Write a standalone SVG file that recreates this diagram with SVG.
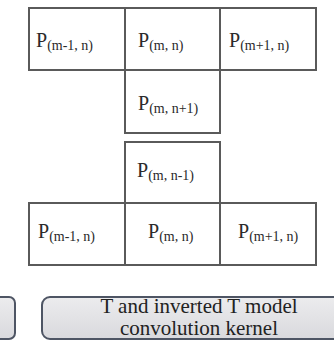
<svg xmlns="http://www.w3.org/2000/svg" width="334" height="341" viewBox="0 0 334 341">
<defs>
<linearGradient id="gbox" x1="0" y1="0" x2="0" y2="1">
<stop offset="0" stop-color="#ececee"/>
<stop offset="1" stop-color="#d9d9dd"/>
</linearGradient>
</defs>
<style>
.cell{fill:#ffffff;stroke:#5a5a5a;stroke-width:2}
.p{font-size:20px;fill:#2a2a2a}
.s{font-size:14px}
.cap{fill:url(#gbox);stroke:#4e5564;stroke-width:2}
.lbl{font-size:21px;fill:#222;text-anchor:middle}
</style>
<rect width="334" height="341" fill="#ffffff"/>
<g font-family="'Liberation Serif', 'DejaVu Serif', serif">
<g id="tmodel">
<g id="t-left"><rect class="cell" x="29" y="8" width="96" height="62"/><text class="p" x="36" y="47">P<tspan class="s" dy="3">(m-1, n)</tspan></text></g>
<g id="t-center"><rect class="cell" x="125" y="8" width="95" height="62"/><text class="p" x="138" y="47">P<tspan class="s" dy="3">(m, n)</tspan></text></g>
<g id="t-right"><rect class="cell" x="220" y="8" width="96" height="62"/><text class="p" x="229" y="47">P<tspan class="s" dy="3">(m+1, n)</tspan></text></g>
<g id="t-below"><rect class="cell" x="125" y="70" width="95" height="63"/><text class="p" x="138" y="110">P<tspan class="s" dy="3">(m, n+1)</tspan></text></g>
</g>
<g id="invtmodel">
<g id="i-above"><rect class="cell" x="125" y="142" width="95" height="61"/><text class="p" x="137" y="177">P<tspan class="s" dy="3">(m, n-1)</tspan></text></g>
<g id="i-left"><rect class="cell" x="29" y="203" width="96" height="62"/><text class="p" x="38" y="238">P<tspan class="s" dy="3">(m-1, n)</tspan></text></g>
<g id="i-center"><rect class="cell" x="125" y="203" width="95" height="62"/><text class="p" x="148" y="238">P<tspan class="s" dy="3">(m, n)</tspan></text></g>
<g id="i-right"><rect class="cell" x="220" y="203" width="96" height="62"/><text class="p" x="238" y="238">P<tspan class="s" dy="3">(m+1, n)</tspan></text></g>
</g>
<g id="prev-caption"><rect class="cap" x="-40" y="297" width="55" height="42" rx="6"/></g>
<g id="caption">
<rect class="cap" x="42" y="297" width="310" height="42" rx="8"/>
<text class="lbl" x="199" y="313">T and inverted T model</text>
<text class="lbl" x="199" y="335">convolution kernel</text>
</g>
<g id="connectors"/>
</g>
</svg>
